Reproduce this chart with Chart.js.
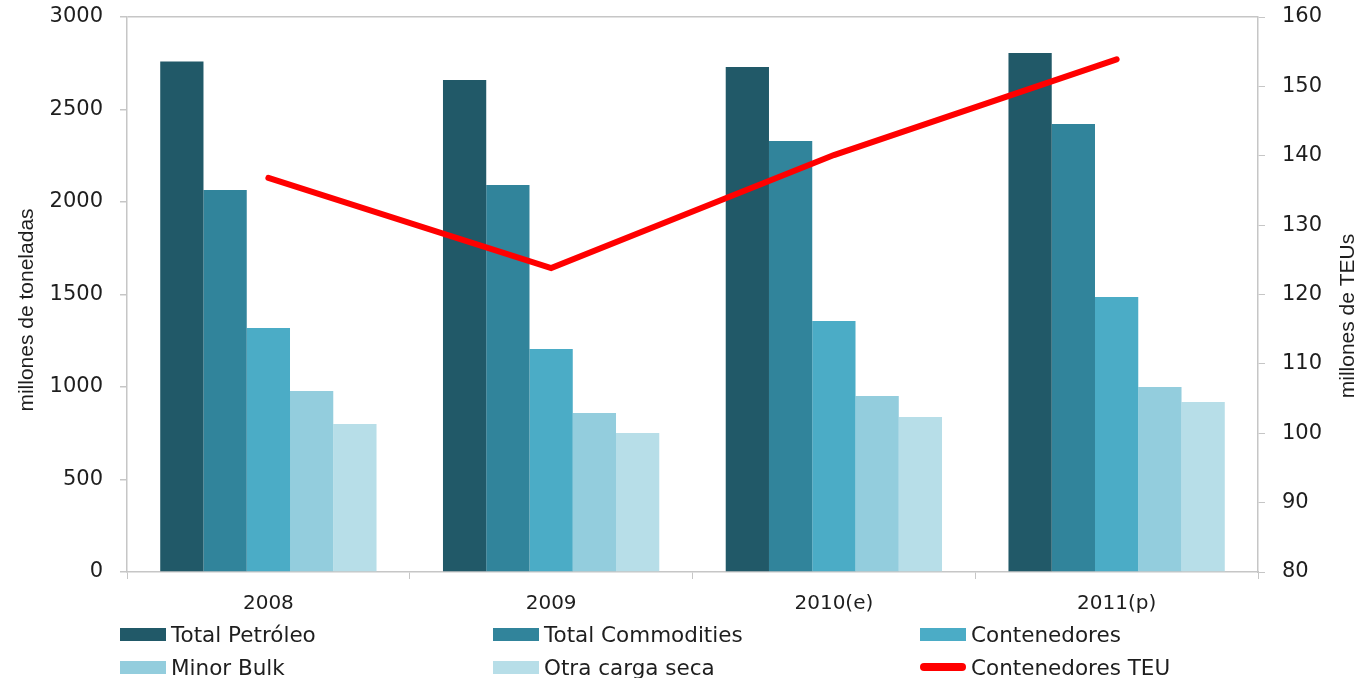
<!DOCTYPE html>
<html>
<head>
<meta charset="utf-8">
<script src="https://cdn.jsdelivr.net/npm/chart.js@4"></script>
<style>
    body { margin: 0; background: #fff; }
    #wrap { position: relative; width: 1371px; height: 678px; }
    #legend { position: absolute; left: 0; top: 618px; width: 1371px; height: 60px; }
    .item { position: absolute; height: 32px; display: flex; align-items: center;
            font-family: "DejaVu Sans", sans-serif; font-size: 21.5px; color: #1e1e1e; white-space: nowrap; }
    .box { width: 46px; height: 13px; margin-right: 5px; }
    .line { width: 46px; height: 8px; border-radius: 4px; margin-right: 5px; }
</style>
</head>
<body>
<div id="wrap">
    <canvas id="cargoChart" width="1371" height="678"></canvas>
    <div id="legend"></div>
</div>
<script>
const years = ["2008", "2009", "2010(e)", "2011(p)"];
const totalPetroleo = [2760, 2660, 2730, 2805];
const totalCommodities = [2065, 2092, 2330, 2422];
const contenedores = [1319, 1205, 1357, 1486];
const minorBulk = [978, 859, 951, 1000];
const otraCargaSeca = [800, 751, 838, 919];
const contenedoresTEU = [136.8, 123.8, 140.1, 153.9];

const axisColor = '#c6c6c6';
const tickFont = { family: 'DejaVu Sans', size: 21 };

// axis titles drawn by hand so both read bottom-to-top like the original
const axisTitles = {
    id: 'axisTitles',
    afterDraw(chart) {
        const c = chart.ctx;
        c.save();
        c.fillStyle = '#1e1e1e';
        c.font = '21px "Liberation Sans"';
        c.textAlign = 'center';
        c.textBaseline = 'middle';
        [[27, 310, 'millones de toneladas'], [1348, 316, 'millones de TEUs']].forEach(function (t) {
            c.save();
            c.translate(t[0], t[1]);
            c.rotate(-Math.PI / 2);
            c.fillText(t[2], 0, 0);
            c.restore();
        });
        c.restore();
    }
};

// fixed side widths, and no extra label padding at the top
function fitSide(width) {
    return function (s) {
        s.width = width;
        s.paddingTop = 0;
        s.paddingBottom = 0;
    };
}

const ctx = document.getElementById('cargoChart').getContext('2d');
const chart = new Chart(ctx, {
    type: 'bar',
    data: {
        labels: years,
        datasets: [
            { type: 'line', label: 'Contenedores TEU', data: contenedoresTEU, yAxisID: 'y1',
              borderColor: '#ff0000', backgroundColor: '#ff0000', borderWidth: 6,
              pointRadius: 0, borderCapStyle: 'round', tension: 0, order: 0 },
            { label: 'Total Petróleo', data: totalPetroleo, backgroundColor: '#215968', order: 1 },
            { label: 'Total Commodities', data: totalCommodities, backgroundColor: '#31849b', order: 1 },
            { label: 'Contenedores', data: contenedores, backgroundColor: '#4bacc6', order: 1 },
            { label: 'Minor Bulk', data: minorBulk, backgroundColor: '#93cddd', order: 1 },
            { label: 'Otra carga seca', data: otraCargaSeca, backgroundColor: '#b7dee8', order: 1 }
        ]
    },
    options: {
        responsive: false,
        animation: false,
        layout: { padding: { left: 0, right: 0, top: 17, bottom: 58 } },
        datasets: { bar: { categoryPercentage: 0.765, barPercentage: 1.0 } },
        plugins: { legend: { display: false }, tooltip: { enabled: false } },
        scales: {
            x: {
                afterFit: function (s) { s.height = 48; },
                grid: { drawOnChartArea: false, tickLength: 7, tickColor: axisColor, offset: true },
                border: { color: axisColor, width: 1.5 },
                ticks: { font: { family: 'DejaVu Sans', size: 20 }, color: '#1e1e1e', padding: 13 }
            },
            y: {
                position: 'left',
                min: 0, max: 3000,
                afterFit: fitSide(127),
                grid: {
                    color: function (c) { return c.tick && c.tick.value === 3000 ? axisColor : 'transparent'; },
                    tickColor: axisColor, tickLength: 7, lineWidth: 1.5
                },
                border: { color: axisColor, width: 1.5 },
                ticks: { stepSize: 500, font: tickFont, color: '#1e1e1e', padding: 17,
                         format: { useGrouping: false } }
            },
            y1: {
                position: 'right',
                min: 80, max: 160,
                afterFit: fitSide(113),
                grid: { drawOnChartArea: false, tickColor: axisColor, tickLength: 7 },
                border: { color: axisColor, width: 1.5 },
                ticks: { stepSize: 10, font: tickFont, color: '#1e1e1e', padding: 17 }
            }
        }
    },
    plugins: [axisTitles]
});

// legend in three columns, built from the chart datasets
const legendOrder = [1, 2, 3, 4, 5, 0];
const colX = [120, 493, 920];
const legend = document.getElementById('legend');
legendOrder.forEach(function (idx, i) {
    const ds = chart.data.datasets[idx];
    const item = document.createElement('div');
    item.className = 'item';
    item.style.left = colX[i % 3] + 'px';
    item.style.top = (Math.floor(i / 3) * 33) + 'px';
    const mark = document.createElement('span');
    mark.className = ds.type === 'line' ? 'line' : 'box';
    mark.style.background = ds.backgroundColor;
    item.appendChild(mark);
    item.appendChild(document.createTextNode(ds.label));
    legend.appendChild(item);
});
</script>
</body>
</html>
